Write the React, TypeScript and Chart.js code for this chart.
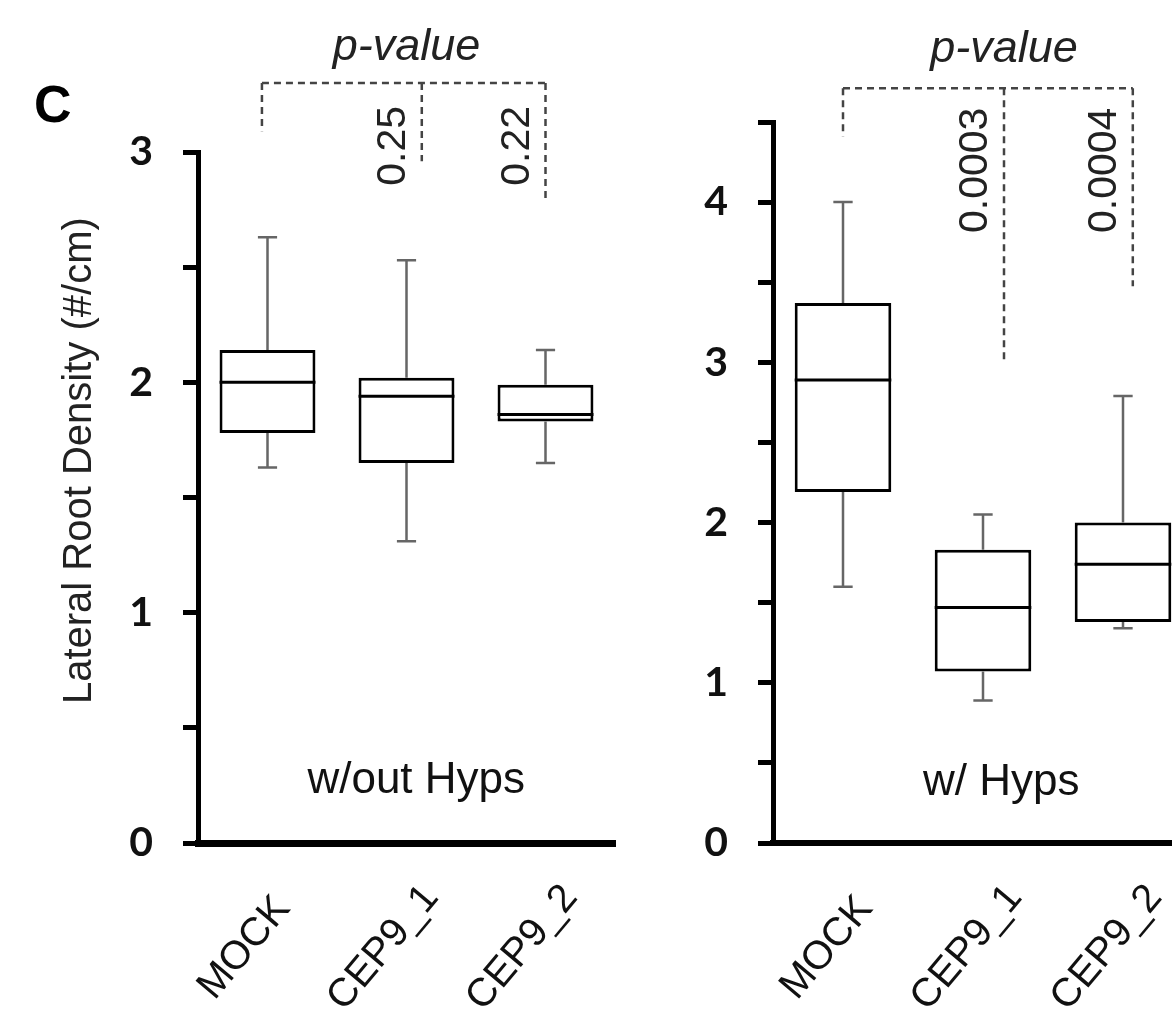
import React, { useEffect, useRef } from 'react';
import { Chart, registerables } from 'chart.js';

Chart.register(...registerables);

// ---------- data ----------
const categories = ['MOCK', 'CEP9_1', 'CEP9_2'];

// Panel 1: w/out Hyps
const noHypsMin = [1.63, 1.31, 1.65];
const noHypsQ1 = [1.78, 1.65, 1.83];
const noHypsMedian = [2.0, 1.94, 1.86];
const noHypsQ3 = [2.14, 2.02, 1.99];
const noHypsMax = [2.63, 2.53, 2.14];
const noHypsPValues = ['', '0.25', '0.22'];
const noHypsYLabels = ['0', '1', '2', '3'];

// Panel 2: w/ Hyps
const hypsMin = [1.6, 0.89, 1.34];
const hypsQ1 = [2.19, 1.07, 1.38];
const hypsMedian = [2.89, 1.47, 1.74];
const hypsQ3 = [3.37, 1.83, 2.0];
const hypsMax = [4.0, 2.05, 2.79];
const hypsPValues = ['', '0.0003', '0.0004'];
const hypsYLabels = ['0', '1', '2', '3', '4'];

const yTitle = 'Lateral Root Density (#/cm)';
const panelLetter = 'C';
const pValueTitle = 'p-value';

const ARIAL = '"Liberation Sans", Arial, sans-serif';
const TICKFONT = 'Lato, "Open Sans", sans-serif';

type Panel = {
  id: string;
  min: number[];
  q1: number[];
  median: number[];
  q3: number[];
  max: number[];
  pValues: string[];
  yLabels: string[];
  yMax: number;
  subtitle: string;
  subtitleX: number;
  subtitleY: number;
  bracketTop: number;
  bracketXs: number[];
  bracketEnds: number[];
  pTextTop: number;
  pLabelX: number;
  pLabelY: number;
  xLabelShift: number;
  showTitle: boolean;
  canvasLeft: number;
  canvasWidth: number;
  areaLeft: number;
  areaTop: number;
  padRight: number;
  xAxisWidth: number;
};

const panels: Panel[] = [
  {
    id: 'noHyps',
    min: noHypsMin,
    q1: noHypsQ1,
    median: noHypsMedian,
    q3: noHypsQ3,
    max: noHypsMax,
    pValues: noHypsPValues,
    yLabels: noHypsYLabels,
    yMax: 3,
    subtitle: 'w/out Hyps',
    subtitleX: 1.07,
    subtitleY: 0.217,
    bracketTop: 3.3,
    bracketXs: [-0.04, 1.11, 2.0],
    bracketEnds: [3.09, 2.96, 2.79],
    pTextTop: 3.2,
    pLabelX: 1.0,
    pLabelY: 3.4,
    xLabelShift: -23,
    showTitle: true,
    canvasLeft: 0,
    canvasWidth: 640,
    areaLeft: 198,
    areaTop: 152,
    padRight: 25,
    xAxisWidth: 7,
  },
  {
    id: 'hyps',
    min: hypsMin,
    q1: hypsQ1,
    median: hypsMedian,
    q3: hypsQ3,
    max: hypsMax,
    pValues: hypsPValues,
    yLabels: hypsYLabels,
    yMax: 4.5,
    subtitle: 'w/ Hyps',
    subtitleX: 1.13,
    subtitleY: 0.3,
    bracketTop: 4.71,
    bracketXs: [0, 1.15, 2.07],
    bracketEnds: [4.41, 3.0, 3.475],
    pTextTop: 4.59,
    pLabelX: 1.15,
    pLabelY: 4.875,
    xLabelShift: -16,
    showTitle: false,
    canvasLeft: 600,
    canvasWidth: 620,
    areaLeft: 173,
    areaTop: 122,
    padRight: 27,
    xAxisWidth: 6,
  },
];

const H = 1025;
const AREA_BOTTOM = 843;

function makeExtras(p: Panel) {
  return {
    id: 'extras_' + p.id,
    afterDraw(chart: any) {
      const ctx: CanvasRenderingContext2D = chart.ctx;
      const xs = chart.scales.x;
      const ys = chart.scales.y;
      const area = chart.chartArea;
      const meta = chart.getDatasetMeta(0);
      ctx.save();

      // whiskers + medians
      meta.data.forEach((bar: any, i: number) => {
        const cx = bar.x;
        const w = bar.width;
        const cap = w * 0.2;
        ctx.setLineDash([]);
        ctx.strokeStyle = '#666';
        ctx.lineWidth = 2.5;
        ctx.beginPath();
        ctx.moveTo(cx, ys.getPixelForValue(p.q3[i]));
        ctx.lineTo(cx, ys.getPixelForValue(p.max[i]));
        ctx.moveTo(cx - cap / 2, ys.getPixelForValue(p.max[i]));
        ctx.lineTo(cx + cap / 2, ys.getPixelForValue(p.max[i]));
        ctx.moveTo(cx, ys.getPixelForValue(p.q1[i]));
        ctx.lineTo(cx, ys.getPixelForValue(p.min[i]));
        ctx.moveTo(cx - cap / 2, ys.getPixelForValue(p.min[i]));
        ctx.lineTo(cx + cap / 2, ys.getPixelForValue(p.min[i]));
        ctx.stroke();

        ctx.strokeStyle = '#000';
        ctx.lineWidth = 3;
        ctx.beginPath();
        const my = ys.getPixelForValue(p.median[i]);
        ctx.moveTo(cx - w / 2, my);
        ctx.lineTo(cx + w / 2, my);
        ctx.stroke();
      });

      // x category labels (rotated, centred)
      ctx.fillStyle = '#111';
      ctx.font = `40px ${ARIAL}`;
      ctx.textAlign = 'center';
      ctx.textBaseline = 'middle';
      categories.forEach((c, i) => {
        ctx.save();
        ctx.translate(xs.getPixelForValue(i) + p.xLabelShift, area.bottom + 105);
        ctx.rotate((-50 * Math.PI) / 180);
        ctx.fillText(c, 0, 0);
        ctx.restore();
      });

      // p-value bracket
      ctx.strokeStyle = '#444';
      ctx.lineWidth = 2.5;
      ctx.setLineDash([7, 5]);
      const topY = ys.getPixelForValue(p.bracketTop);
      ctx.beginPath();
      ctx.moveTo(xs.getPixelForValue(p.bracketXs[0]), topY);
      ctx.lineTo(xs.getPixelForValue(p.bracketXs[p.bracketXs.length - 1]), topY);
      p.bracketXs.forEach((bx, i) => {
        const px = xs.getPixelForValue(bx);
        ctx.moveTo(px, topY);
        ctx.lineTo(px, ys.getPixelForValue(p.bracketEnds[i]));
      });
      ctx.stroke();
      ctx.setLineDash([]);

      // p-value numbers
      ctx.fillStyle = '#222';
      ctx.font = `41px ${ARIAL}`;
      ctx.textAlign = 'right';
      ctx.textBaseline = 'middle';
      p.pValues.forEach((t, i) => {
        if (!t) return;
        ctx.save();
        ctx.translate(xs.getPixelForValue(p.bracketXs[i]) - 28, ys.getPixelForValue(p.pTextTop));
        ctx.rotate(-Math.PI / 2);
        ctx.fillText(t, 0, 0);
        ctx.restore();
      });

      // p-value title
      ctx.font = `italic 45px ${ARIAL}`;
      ctx.textAlign = 'center';
      ctx.textBaseline = 'alphabetic';
      ctx.fillText(pValueTitle, xs.getPixelForValue(p.pLabelX), ys.getPixelForValue(p.pLabelY));

      // subtitle
      ctx.fillStyle = '#111';
      ctx.font = `44px ${ARIAL}`;
      ctx.fillText(p.subtitle, xs.getPixelForValue(p.subtitleX), ys.getPixelForValue(p.subtitleY));

      if (p.showTitle) {
        ctx.save();
        ctx.fillStyle = '#222';
        ctx.font = `40px ${ARIAL}`;
        ctx.textAlign = 'center';
        ctx.textBaseline = 'middle';
        ctx.translate(area.left - 118, ys.getPixelForValue(1.66));
        ctx.rotate(-Math.PI / 2);
        ctx.fillText(yTitle, 0, 0);
        ctx.restore();

        ctx.fillStyle = '#000';
        ctx.font = `bold 52px ${ARIAL}`;
        ctx.textAlign = 'left';
        ctx.textBaseline = 'alphabetic';
        ctx.fillText(panelLetter, area.left - 164, area.top - 30);
      }
      ctx.restore();
    },
  };
}

function BoxPanel({ p }: { p: Panel }) {
  const ref = useRef<HTMLCanvasElement>(null);
  useEffect(() => {
    const canvas = ref.current!;
    const chart = new Chart(canvas, {
      type: 'bar',
      data: {
        labels: categories,
        datasets: [
          {
            data: categories.map((_, i) => [p.q1[i], p.q3[i]]) as any,
            backgroundColor: '#fff',
            borderColor: '#000',
            borderWidth: 3,
            borderSkipped: false,
            barPercentage: 0.69,
            categoryPercentage: 1,
          },
        ],
      },
      options: {
        responsive: false,
        animation: false,
        layout: { padding: { top: p.areaTop, right: p.padRight, left: 0, bottom: 0 } },
        plugins: { legend: { display: false }, tooltip: { enabled: false } },
        scales: {
          x: {
            type: 'category',
            grid: { display: false, drawTicks: false },
            border: { display: true, color: '#000', width: p.xAxisWidth },
            ticks: { display: false },
            afterFit: (s: any) => {
              s.height = H - AREA_BOTTOM;
            },
          },
          y: {
            min: 0,
            max: p.yMax,
            grid: {
              display: true,
              drawOnChartArea: false,
              drawTicks: true,
              tickLength: 15,
              tickWidth: 5,
              tickColor: '#000',
            },
            border: { display: true, color: '#000', width: 5 },
            ticks: {
              stepSize: 0.5,
              padding: 30,
              color: '#111',
              font: { family: TICKFONT, size: 41, weight: 'bold' },
              callback: (v: any) => (Number.isInteger(v) ? p.yLabels[v] : ''),
            },
            afterFit: (s: any) => {
              s.width = p.areaLeft;
            },
          },
        },
      } as any,
      plugins: [makeExtras(p)],
    });
    return () => chart.destroy();
  }, []);
  return (
    <canvas
      ref={ref}
      width={p.canvasWidth}
      height={H}
      style={{ position: 'absolute', left: p.canvasLeft, top: 0, width: p.canvasWidth, height: H }}
    />
  );
}

export default function App() {
  return (
    <div
      style={{
        position: 'absolute',
        left: 0,
        top: 0,
        width: 1172,
        height: H,
        overflow: 'hidden',
        background: '#fff',
      }}
    >
      {panels.map((p) => (
        <BoxPanel key={p.id} p={p} />
      ))}
    </div>
  );
}
